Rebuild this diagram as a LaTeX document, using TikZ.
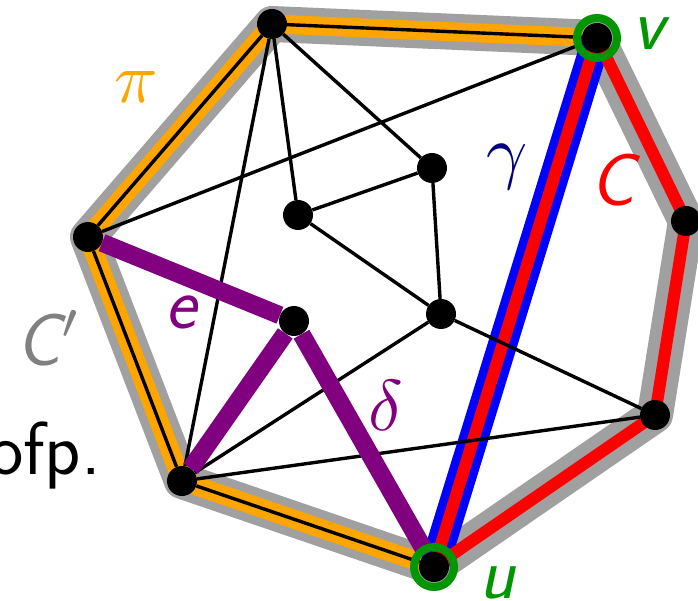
\documentclass[tikz,border=0pt]{standalone}
\usepackage{fontspec}
\usepackage{graphicx}
\definecolor{band}{RGB}{160,160,160}
\definecolor{orng}{RGB}{255,165,0}
\definecolor{purp}{RGB}{128,0,128}
\definecolor{grn}{RGB}{0,150,0}
\definecolor{navyc}{RGB}{0,0,128}
\definecolor{lblgray}{RGB}{128,128,128}
\newcommand{\bigmath}[1]{\scalebox{7.2}{\fontsize{10}{12}\selectfont$#1$}}
\tikzset{
 vtx/.style={circle,fill=black,inner sep=0pt,minimum size=30pt},
 edge/.style={line width=3.4pt},
 lbl/.style={inner sep=0pt,anchor=base,font=\fontsize{74}{78}\selectfont\sffamily\slshape},
 bandline/.style={band,line width=36pt,line join=round},
 pathline/.style={orng,line width=19pt,line join=round},
 redline/.style={red,line width=12pt,line join=round},
 blueline/.style={blue,line width=29pt},
 purpline/.style={purp,line width=18pt},
 ring/.style={grn,line width=8pt},
}
\begin{document}
\begin{tikzpicture}[x=1pt,y=-1pt]
\useasboundingbox (0,0) rectangle (698,601);
\coordinate (pT) at (272,24);
\coordinate (pv) at (597,38);
\coordinate (pR) at (686,221);
\coordinate (pRB) at (655,415);
\coordinate (pu) at (434,567);
\coordinate (pBL) at (182,481);
\coordinate (pL) at (88,237);
\coordinate (pA) at (432,168);
\coordinate (pE) at (298,215);
\coordinate (pB) at (441,314);
\coordinate (pD) at (294,321);
% bands
\draw[bandline] (pT)--(pv)--(pR)--(pRB)--(pu)--(pBL)--(pL)--cycle;
\draw[pathline] (pu)--(pBL)--(pL)--(pT)--(pv);
\draw[blueline] (pu)--(pv);
\draw[redline] (pv)--(pR)--(pRB)--(pu)--cycle;
% nodes
\node[vtx] (T) at (pT) {};
\node[vtx] (v) at (pv) {};
\node[vtx] (R) at (pR) {};
\node[vtx] (RB) at (pRB) {};
\node[vtx] (u) at (pu) {};
\node[vtx] (BL) at (pBL) {};
\node[vtx] (L) at (pL) {};
\node[vtx] (A) at (pA) {};
\node[vtx] (E) at (pE) {};
\node[vtx] (B) at (pB) {};
\node[vtx] (D) at (pD) {};
% black edges
\begin{scope}[edge]
\draw (T)--(v);
\draw (T)--(L);
\draw (L)--(BL);
\draw (BL)--(u);
\draw (T)--(E);
\draw (T)--(BL);
\draw (T)--(A);
\draw (L)--(v);
\draw (E)--(A);
\draw (A)--(B);
\draw (E)--(B);
\draw (B)--(RB);
\draw (BL)--(B);
\draw (BL)--(RB);
\end{scope}
% purple edges
\draw[purpline] (L)--(D);
\draw[purpline] (D)--(BL);
\draw[purpline] (D)--(u);
% green rings
\draw[ring] (pv) circle (20pt);
\draw[ring] (pu) circle (20pt);
% labels
\node[lbl,grn] (lv) at (648,50) {v};
\node[lbl,grn] (lu) at (497,598) {u};
\node[lbl,red] (lC) at (613,206) {C};
\node[lbl,lblgray] (lCp) at (49,365) {C\bigmath{'}};
\node[lbl,purp] (le) at (181,328) {e};
\node[lbl,purp] (ld) at (386,430) {\bigmath{\delta}};
\node[lbl,navyc] (lg) at (507,176) {\bigmath{\gamma}};
\node[lbl,orng] (lp) at (136,103) {\bigmath{\pi}};
\node[inner sep=0pt,anchor=base east,font=\fontsize{75}{80}\selectfont\sffamily] (lt) at (101,474) {ofp.};
\end{tikzpicture}
\end{document}
